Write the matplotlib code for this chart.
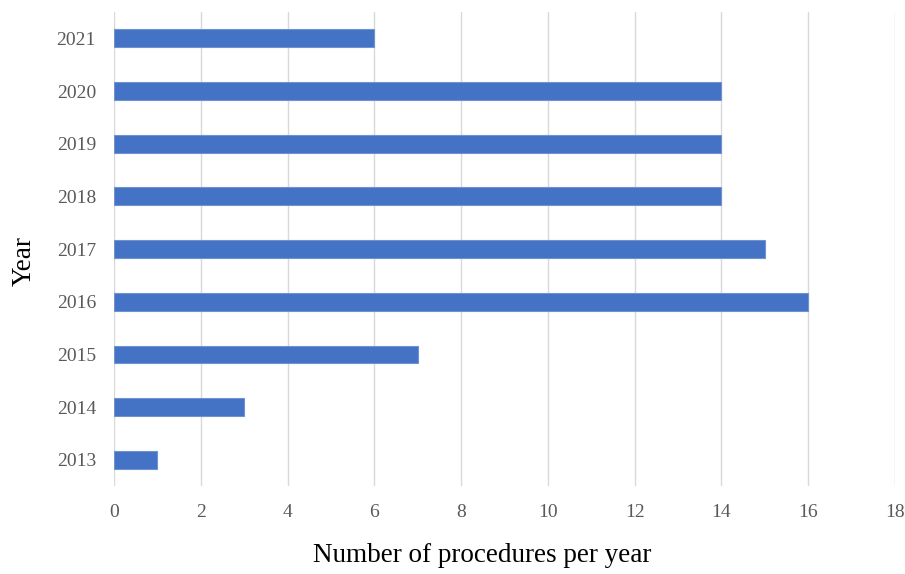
import matplotlib.pyplot as plt

# data
years = ["2013", "2014", "2015", "2016", "2017", "2018", "2019", "2020", "2021"]
procedures = [1, 3, 7, 16, 15, 14, 14, 14, 6]

plt.rcParams['font.family'] = ['Liberation Serif', 'DejaVu Serif']

fig = plt.figure(figsize=(9.05, 5.74), dpi=100)
ax = fig.add_axes([0.126, 0.153, 0.863, 0.826])

ax.barh(range(len(years)), procedures, height=0.34, color='#4472C4',
        edgecolor='#6f92d3', linewidth=0.8, zorder=3)

ax.set_xlim(0, 18)
ax.set_ylim(-0.5, len(years) - 0.5)
ax.set_xticks(range(0, 19, 2))
ax.set_yticks(range(len(years)))
ax.set_yticklabels(years)

ax.grid(axis='x', color='#d9d9d9', linewidth=1, zorder=0)
for s in ax.spines.values():
    s.set_visible(False)
ax.tick_params(length=0, labelsize=14, labelcolor='#595959')
ax.tick_params(axis='x', pad=13)
ax.tick_params(axis='y', pad=13)

ax.set_xlabel("Number of procedures per year", fontsize=19.5)
ax.xaxis.set_label_coords(0.472, -0.119)
ax.set_ylabel("Year", fontsize=19.5)
ax.yaxis.set_label_coords(-0.099, 0.475)

fig.savefig("out.png", dpi=100)
